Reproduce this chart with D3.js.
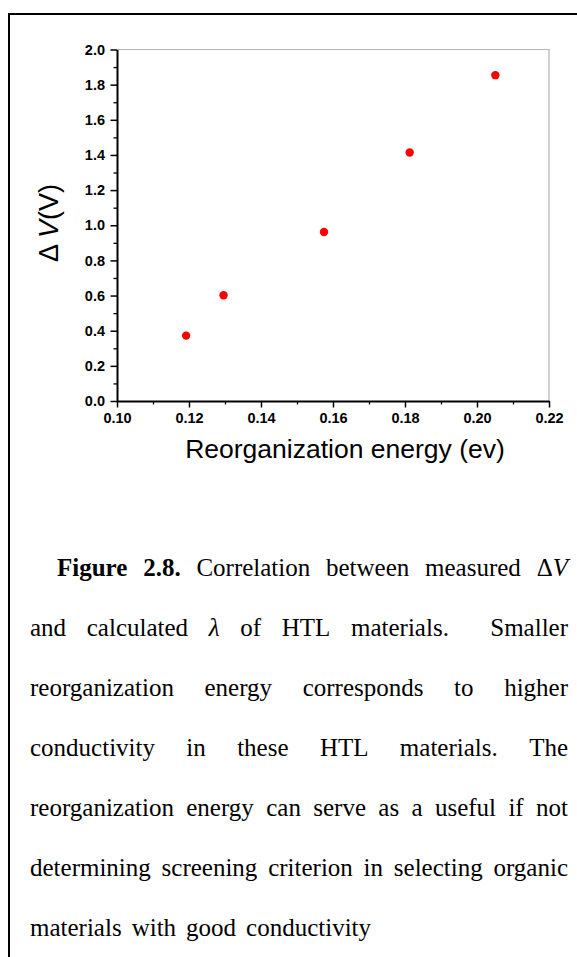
<!DOCTYPE html>
<html>
<head>
<meta charset="utf-8">
<script src="https://cdn.jsdelivr.net/npm/d3@7"></script>
<style>
  html, body { margin: 0; padding: 0; background: #fff; }
  svg { display: block; }
</style>
</head>
<body>
<svg id="fig" width="577" height="957"></svg>
<script>
// Reorganization energy (eV) versus measured ΔV (V) for the HTL materials
const reorgEnergy = [0.1192, 0.1296, 0.1575, 0.1813, 0.2051];
const deltaV      = [0.372, 0.602, 0.962, 1.414, 1.854];

const xTicks = [0.10, 0.12, 0.14, 0.16, 0.18, 0.20, 0.22];
const xMinorTicks = [0.11, 0.13, 0.15, 0.17, 0.19, 0.21];
const yTicks = [0.0, 0.2, 0.4, 0.6, 0.8, 1.0, 1.2, 1.4, 1.6, 1.8, 2.0];
const yMinorTicks = [0.1, 0.3, 0.5, 0.7, 0.9, 1.1, 1.3, 1.5, 1.7, 1.9];

const xTitle = "Reorganization energy (ev)";

// Caption lines: **bold** words, _italic_ segments inside a word,
// a double space gives a double-width gap when the line is justified
const captionLines = [
  "**Figure** **2.8.** Correlation between measured Δ_V_",
  "and calculated _λ_ of HTL materials.  Smaller",
  "reorganization energy corresponds to higher",
  "conductivity in these HTL materials. The",
  "reorganization energy can serve as a useful if not",
  "determining screening criterion in selecting organic",
  "materials with good conductivity"
];

const svg = d3.select("#fig");
const sans = "'Liberation Sans', Arial, sans-serif";
const serif = "'Liberation Serif', 'Times New Roman', serif";

// Outer frame (top and left rules)
svg.append("path")
  .attr("d", "M9,957 V14 H577")
  .attr("fill", "none").attr("stroke", "#000").attr("stroke-width", 2);

const plot = { left: 117, right: 549, top: 49.5, bottom: 401 };
const x = d3.scaleLinear().domain([0.10, 0.22]).range([plot.left, plot.right]);
const y = d3.scaleLinear().domain([0, 2.0]).range([plot.bottom, plot.top]);

// Light frame on the top and right
svg.append("path")
  .attr("d", `M${plot.left},${plot.top} H${plot.right} V${plot.bottom}`)
  .attr("fill", "none").attr("stroke", "#b4b4b4").attr("stroke-width", 1.2);

function styleAxis(g) {
  g.select(".domain").attr("stroke", "#000").attr("stroke-width", 2);
  g.selectAll(".tick line").attr("stroke", "#000").attr("stroke-width", 1.5);
  g.selectAll(".tick text")
    .attr("fill", "#000")
    .style("font-family", sans)
    .style("font-size", "14.5px")
    .style("font-weight", "bold");
}

// Minor ticks
svg.append("g")
  .attr("transform", `translate(0,${plot.bottom})`)
  .call(d3.axisBottom(x).tickValues(xMinorTicks).tickSize(3.5).tickFormat(""))
  .call(g => { g.select(".domain").remove(); g.selectAll("line").attr("stroke", "#000").attr("stroke-width", 1.3); });
svg.append("g")
  .attr("transform", `translate(${plot.left},0)`)
  .call(d3.axisLeft(y).tickValues(yMinorTicks).tickSize(3.5).tickFormat(""))
  .call(g => { g.select(".domain").remove(); g.selectAll("line").attr("stroke", "#000").attr("stroke-width", 1.3); });

// Major axes
const xAxis = svg.append("g")
  .attr("transform", `translate(0,${plot.bottom})`)
  .call(d3.axisBottom(x).tickValues(xTicks).tickSize(6.5).tickSizeOuter(0).tickFormat(d3.format(".2f")))
  .call(styleAxis);
xAxis.selectAll(".tick text").attr("y", 12);

const yAxis = svg.append("g")
  .attr("transform", `translate(${plot.left},0)`)
  .call(d3.axisLeft(y).tickValues(yTicks).tickSize(6.5).tickSizeOuter(0).tickFormat(d3.format(".1f")))
  .call(styleAxis);
yAxis.selectAll(".tick text").attr("x", -12);

// Axis titles
svg.append("text")
  .attr("x", 345)
  .attr("y", 458)
  .attr("text-anchor", "middle")
  .style("font-family", sans)
  .style("font-size", "26.5px")
  .text(xTitle);

const yTitle = svg.append("text")
  .attr("transform", "translate(58,223) rotate(-90)")
  .attr("text-anchor", "middle")
  .style("font-family", sans)
  .style("font-size", "27px");
yTitle.append("tspan").text("Δ ");
yTitle.append("tspan").style("font-style", "italic").text("V");
yTitle.append("tspan").text("(V)");

// Data points
svg.append("g")
  .selectAll("circle")
  .data(reorgEnergy.map((e, i) => ({ e, v: deltaV[i] })))
  .join("circle")
  .attr("cx", d => x(d.e))
  .attr("cy", d => y(d.v))
  .attr("r", 4.2)
  .attr("fill", "#ff0000");

// Caption, justified between the text margins
const cap = { left: 30, right: 568, indent: 57, top: 576, lineGap: 60, size: 25 };
const capG = svg.append("g")
  .style("font-family", serif)
  .style("font-size", cap.size + "px")
  .attr("fill", "#000");

function parseWord(w) {
  let bold = false;
  if (w.startsWith("**") && w.endsWith("**")) { bold = true; w = w.slice(2, -2); }
  const parts = w.split("_").map((t, k) => ({ t, italic: k % 2 === 1 })).filter(p => p.t.length);
  return { bold, parts };
}

captionLines.forEach((line, li) => {
  const tokens = line.split(/(\s+)/);
  const words = [], gapUnits = [];
  tokens.forEach(tk => {
    if (/^\s+$/.test(tk)) gapUnits.push(tk.length);
    else if (tk.length) words.push(parseWord(tk));
  });
  const yPos = cap.top + li * cap.lineGap;
  const startX = li === 0 ? cap.indent : cap.left;
  const nodes = words.map(w => {
    const t = capG.append("text").attr("y", yPos);
    if (w.bold) t.style("font-weight", "bold");
    w.parts.forEach(p => {
      const s = t.append("tspan").text(p.t);
      if (p.italic) s.style("font-style", "italic");
    });
    return t;
  });
  const widths = nodes.map(n => n.node().getComputedTextLength());
  const total = d3.sum(widths);
  const last = li === captionLines.length - 1;
  const unit = last ? 10 : (cap.right - startX - total) / d3.sum(gapUnits);
  let cx = startX;
  nodes.forEach((n, k) => {
    n.attr("x", cx);
    cx += widths[k] + (k < gapUnits.length ? gapUnits[k] * unit : 0);
  });
});
</script>
</body>
</html>
